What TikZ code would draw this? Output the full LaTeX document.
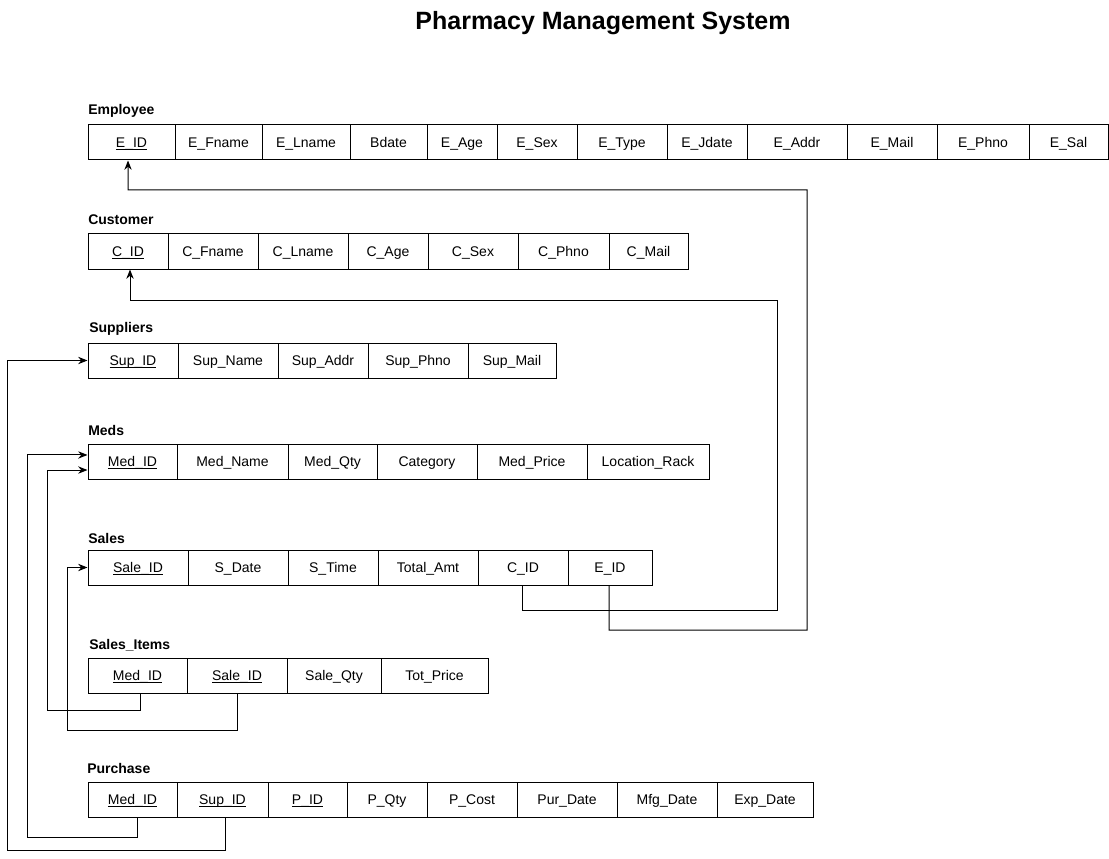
\documentclass[tikz,border=0pt]{standalone}
\usepackage{fontspec}
\setmainfont{Liberation Sans}
\usetikzlibrary{arrows.meta,calc}
\tikzset{
  cellbox/.style={draw=black, line width=0.75pt, inner sep=0pt, text height=9pt, text depth=1.4pt, font=\fontsize{10.5}{12}\selectfont},
  tbltitle/.style={anchor=west, inner sep=0pt, font=\bfseries\fontsize{10.5}{12}\selectfont},
  fk/.style={draw=black, line width=0.75pt, -{Stealth[length=7pt,width=5.5pt]}},
}
\newcommand\cellnode[6]{\node[cellbox, minimum width={(#3-#2)*0.75pt}, minimum height={(#5-#4)*0.75pt}] (#1) at ({(#2+#3)/2},{(#4+#5)/2}) {#6};}
\newcommand\ul[1]{\setbox0\hbox{#1}\rlap{\rule[-1.6pt]{\wd0}{0.6pt}}\box0}
\begin{document}
\begin{tikzpicture}[x=0.75pt,y=-0.75pt]
\useasboundingbox (0,0) rectangle (1109,859);
\node[font=\bfseries\fontsize{18.75}{22}\selectfont, inner sep=0pt] (title) at (603,23.5) {Pharmacy Management System};

% Employee
\node[tbltitle] (tEmp) at (88,111) {Employee};
\cellnode{eID}{88}{175}{125}{160}{\ul{E\_ID}}
\cellnode{eF}{175}{262}{125}{160}{E\_Fname}
\cellnode{eL}{262}{350}{125}{160}{E\_Lname}
\cellnode{eB}{350}{427}{125}{160}{Bdate}
\cellnode{eA}{427}{497}{125}{160}{E\_Age}
\cellnode{eS}{497}{577}{125}{160}{E\_Sex}
\cellnode{eT}{577}{667}{125}{160}{E\_Type}
\cellnode{eJ}{667}{747}{125}{160}{E\_Jdate}
\cellnode{eAd}{747}{847}{125}{160}{E\_Addr}
\cellnode{eM}{847}{937}{125}{160}{E\_Mail}
\cellnode{eP}{937}{1029}{125}{160}{E\_Phno}
\cellnode{eSal}{1029}{1108}{125}{160}{E\_Sal}

% Customer
\node[tbltitle] (tCus) at (88,220) {Customer};
\cellnode{cID}{88}{168}{234}{269}{\ul{C\_ID}}
\cellnode{cF}{168}{258}{234}{269}{C\_Fname}
\cellnode{cL}{258}{348}{234}{269}{C\_Lname}
\cellnode{cA}{348}{428}{234}{269}{C\_Age}
\cellnode{cS}{428}{518}{234}{269}{C\_Sex}
\cellnode{cP}{518}{609}{234}{269}{C\_Phno}
\cellnode{cM}{609}{688}{234}{269}{C\_Mail}

% Suppliers
\node[tbltitle] (tSup) at (89,329) {Suppliers};
\cellnode{supID}{88}{178}{343}{378}{\ul{Sup\_ID}}
\cellnode{supN}{178}{278}{343}{378}{Sup\_Name}
\cellnode{supA}{278}{368}{343}{378}{Sup\_Addr}
\cellnode{supP}{368}{468}{343}{378}{Sup\_Phno}
\cellnode{supM}{468}{556}{343}{378}{Sup\_Mail}

% Meds
\node[tbltitle] (tMed) at (88,430) {Meds};
\cellnode{mID}{88}{177}{444}{479}{\ul{Med\_ID}}
\cellnode{mN}{177}{288}{444}{479}{Med\_Name}
\cellnode{mQ}{288}{377}{444}{479}{Med\_Qty}
\cellnode{mC}{377}{477}{444}{479}{Category}
\cellnode{mP}{477}{587}{444}{479}{Med\_Price}
\cellnode{mL}{587}{709}{444}{479}{Location\_Rack}

% Sales
\node[tbltitle] (tSal) at (88,538) {Sales};
\cellnode{sID}{88}{188}{550}{585}{\ul{Sale\_ID}}
\cellnode{sD}{188}{288}{550}{585}{S\_Date}
\cellnode{sT}{288}{378}{550}{585}{S\_Time}
\cellnode{sA}{378}{478}{550}{585}{Total\_Amt}
\cellnode{sC}{478}{568}{550}{585}{C\_ID}
\cellnode{sE}{568}{652}{550}{585}{E\_ID}

% Sales_Items
\node[tbltitle] (tSI) at (89,645) {Sales\_Items};
\cellnode{siM}{88}{187}{658}{693}{\ul{Med\_ID}}
\cellnode{siS}{187}{287}{658}{693}{\ul{Sale\_ID}}
\cellnode{siQ}{287}{381}{658}{693}{Sale\_Qty}
\cellnode{siT}{381}{488}{658}{693}{Tot\_Price}

% Purchase
\node[tbltitle] (tPur) at (87,768) {Purchase};
\cellnode{pM}{88}{177}{782}{817}{\ul{Med\_ID}}
\cellnode{pS}{177}{268}{782}{817}{\ul{Sup\_ID}}
\cellnode{pID}{268}{347}{782}{817}{\ul{P\_ID}}
\cellnode{pQ}{347}{427}{782}{817}{P\_Qty}
\cellnode{pC}{427}{517}{782}{817}{P\_Cost}
\cellnode{pPD}{517}{617}{782}{817}{Pur\_Date}
\cellnode{pMD}{617}{717}{782}{817}{Mfg\_Date}
\cellnode{pED}{717}{813}{782}{817}{Exp\_Date}

% Connectors
\draw[fk] ([xshift=-0.75pt]sE.south) |- (807,630) |- (128,190) -- ([xshift=-2.6pt]eID.south);
\draw[fk] ([xshift=-0.75pt]sC.south) |- (777,610) |- (130,300) -- ([xshift=1.5pt]cID.south);
\draw[fk] ([xshift=1.9pt]pS.south) |- (7,850) |- (supID.west);
\draw[fk] ([xshift=3.4pt]pM.south) |- (27,837) |- ([yshift=4.9pt]mID.west);
\draw[fk] ([xshift=2.6pt]siM.south) |- (47,710) |- ([yshift=-6.4pt]mID.west);
\draw[fk] (siS.south) |- (67,730) |- (sID.west);
\end{tikzpicture}
\end{document}
